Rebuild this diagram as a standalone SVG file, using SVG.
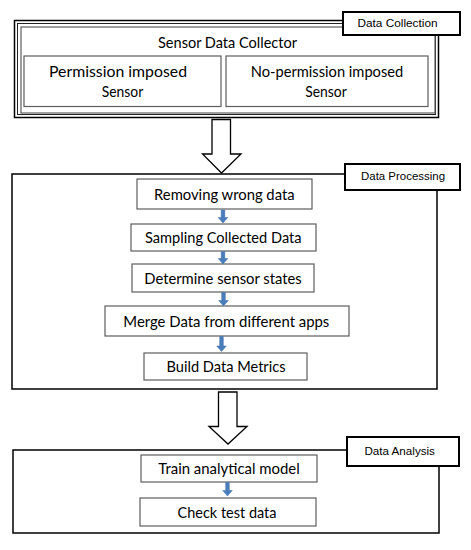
<svg xmlns="http://www.w3.org/2000/svg" width="471" height="550" viewBox="0 0 471 550">
<style>
.bg{fill:#fff}
.outer{fill:none;stroke:#000;stroke-width:1.5}
.thin{fill:none;stroke:#222;stroke-width:1}
.box{fill:#fff;stroke:#5e5e5e;stroke-width:1.2}
.label{fill:#fff;stroke:#000;stroke-width:2}
.big{fill:#fff;stroke:#000;stroke-width:1.3;stroke-linejoin:miter}
.blue{fill:#4a7ebb;stroke:#3d6da6;stroke-width:0.5}
.t{font-family:Lato,"Open Sans","Liberation Sans",sans-serif;font-size:15px;fill:#000;text-anchor:middle}
.l{font-family:"Liberation Sans",Arial,sans-serif;font-size:11.5px;fill:#000;text-anchor:middle}
</style>
<rect class="bg" x="0" y="0" width="471" height="550"/>

<g id="data-collection">
  <rect class="outer" x="14.5" y="20.5" width="424" height="97"/>
  <rect class="thin" x="17.5" y="23.5" width="418" height="91"/>
  <rect class="box" x="21" y="27" width="414" height="86"/>
  <text class="t" x="227.5" y="48" textLength="139" lengthAdjust="spacingAndGlyphs">Sensor Data Collector</text>
  <rect class="label" x="343" y="12" width="117" height="23"/>
  <text class="l" x="397.5" y="27" textLength="80" lengthAdjust="spacingAndGlyphs">Data Collection</text>
</g>
<g id="permission-sensor">
  <rect class="box" x="24" y="56" width="197" height="50.5"/>
  <text class="t" x="118" y="76.5" textLength="138" lengthAdjust="spacingAndGlyphs">Permission imposed</text>
  <text class="t" x="122.5" y="96.5" textLength="41.5" lengthAdjust="spacingAndGlyphs">Sensor</text>
</g>
<g id="no-permission-sensor">
  <rect class="box" x="226" y="56" width="202" height="50.5"/>
  <text class="t" x="327" y="76.5" textLength="152.5" lengthAdjust="spacingAndGlyphs">No-permission imposed</text>
  <text class="t" x="326" y="96.5" textLength="41.5" lengthAdjust="spacingAndGlyphs">Sensor</text>
</g>

<g id="data-processing">
  <rect class="outer" x="12" y="174" width="425" height="215"/>
  <rect class="label" x="345" y="164" width="115" height="26"/>
  <text class="l" x="403" y="180" textLength="84" lengthAdjust="spacingAndGlyphs">Data Processing</text>
</g>
<g id="removing-wrong-data">
  <rect class="box" x="137" y="179" width="175" height="30"/>
  <text class="t" x="224.3" y="199.5" textLength="140.5" lengthAdjust="spacingAndGlyphs">Removing wrong data</text>
</g>
<g id="sampling-collected-data">
  <rect class="box" x="131" y="224" width="185" height="27"/>
  <text class="t" x="223.3" y="243" textLength="156.5" lengthAdjust="spacingAndGlyphs">Sampling Collected Data</text>
</g>
<g id="determine-sensor-states">
  <rect class="box" x="132" y="264" width="182" height="28"/>
  <text class="t" x="223" y="283.5" textLength="157.5" lengthAdjust="spacingAndGlyphs">Determine sensor states</text>
</g>
<g id="merge-data">
  <rect class="box" x="105" y="306" width="244" height="30"/>
  <text class="t" x="226.3" y="326.5" textLength="206" lengthAdjust="spacingAndGlyphs">Merge Data from different apps</text>
</g>
<g id="build-data-metrics">
  <rect class="box" x="144" y="353" width="163" height="27"/>
  <text class="t" x="226" y="372" textLength="119" lengthAdjust="spacingAndGlyphs">Build Data Metrics</text>
</g>

<g id="data-analysis">
  <rect class="outer" x="13" y="450" width="426" height="83"/>
  <rect class="label" x="347" y="437" width="112" height="29"/>
  <text class="l" x="399.7" y="455" textLength="70.5" lengthAdjust="spacingAndGlyphs">Data Analysis</text>
</g>
<g id="train-analytical-model">
  <rect class="box" x="141" y="455" width="176" height="27"/>
  <text class="t" x="229" y="474" textLength="141.5" lengthAdjust="spacingAndGlyphs">Train analytical model</text>
</g>
<g id="check-test-data">
  <rect class="box" x="140" y="498" width="176" height="28"/>
  <text class="t" x="227" y="518" textLength="99" lengthAdjust="spacingAndGlyphs">Check test data</text>
</g>

<g id="connectors">
  <polygon class="big" points="212,119.5 230.5,119.5 230.5,154 241,154 221.5,173 202.5,154 212,154"/>
  <polygon class="big" points="218.5,392 237,392 237,426.5 247,426.5 228,444 209,426.5 218.5,426.5"/>
  <path class="blue" d="M221.2,210 h3.6 v7.5 h3 l-4.8,5.5 l-4.8,-5.5 h3 z"/>
  <path class="blue" d="M221.2,251.5 h3.6 v7 h3 l-4.8,5.5 l-4.8,-5.5 h3 z"/>
  <path class="blue" d="M221.7,292.5 h3.6 v8 h3 l-4.8,5.5 l-4.8,-5.5 h3 z"/>
  <path class="blue" d="M219.7,336.5 h3.6 v9.5 h3 l-4.8,5.5 l-4.8,-5.5 h3 z"/>
  <path class="blue" d="M225.7,482.5 h3.6 v8 h3 l-4.8,5.5 l-4.8,-5.5 h3 z"/>
</g>
</svg>
